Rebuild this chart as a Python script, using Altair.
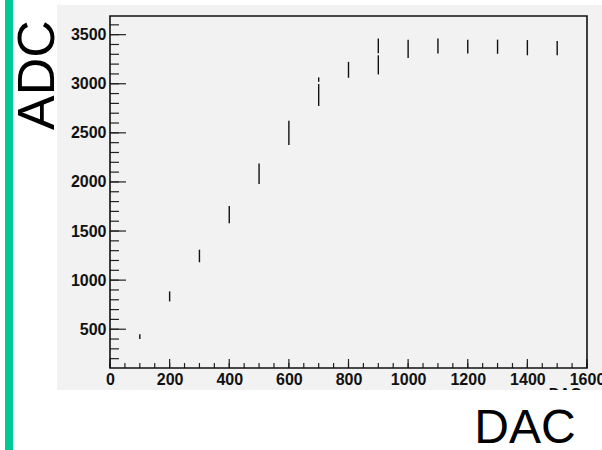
import altair as alt
import pandas as pd

dac = [100, 200, 300, 400, 500, 600, 700, 700, 800, 900, 900, 1000, 1100, 1200, 1300, 1400, 1500]
adc_lo = [400, 783, 1182, 1580, 1978, 2376, 2774, 3020, 3061, 3095, 3310, 3263, 3308, 3308, 3305, 3290, 3290]
adc_hi = [450, 885, 1310, 1755, 2187, 2623, 2997, 3065, 3223, 3290, 3460, 3449, 3460, 3449, 3449, 3445, 3435]

x_major = [0, 200, 400, 600, 800, 1000, 1200, 1400, 1600]
x_minor = list(range(0, 1601, 50))
y_major = [500, 1000, 1500, 2000, 2500, 3000, 3500]
y_minor = list(range(200, 3601, 100))

X_DOMAIN = [0, 1600]
Y_DOMAIN = [105, 3690]
W, H = 477, 352

df = pd.DataFrame({"dac": dac, "lo": adc_lo, "hi": adc_hi})
one = pd.DataFrame({"a": [0]})

FONT = "Liberation Sans"
xs = alt.Scale(domain=X_DOMAIN, nice=False, zero=False)
ys = alt.Scale(domain=Y_DOMAIN, nice=False, zero=False)
x_axis = alt.Axis(values=x_major, format="d", ticks=False, domain=False, grid=False, title=None,
                  labelFont=FONT, labelFontSize=16, labelFontWeight="bold",
                  labelColor="#111", labelPadding=3, labelFlush=False,
                  labelOverlap=False, zindex=1)
y_axis = alt.Axis(values=y_major, format="d", ticks=False, domain=False, grid=False, title=None,
                  labelFont=FONT, labelFontSize=16, labelFontWeight="bold",
                  labelColor="#111", labelPadding=4, labelFlush=False,
                  labelOverlap=False, zindex=1)

panel = alt.Chart(one).mark_rect(color="#f2f2f2").encode(
    x=alt.value(-53), x2=alt.value(492), y=alt.value(-11), y2=alt.value(374))
bar = alt.Chart(one).mark_rect(color="#00c896").encode(
    x=alt.value(-105), x2=alt.value(-97), y=alt.value(-16), y2=alt.value(434))
frame = alt.Chart(one).mark_rect(fillOpacity=0, stroke="#111", strokeWidth=1.6).encode(
    x=alt.value(0), x2=alt.value(W), y=alt.value(0), y2=alt.value(H))

small_title = alt.Chart(one).mark_text(text="DAC", font=FONT, fontSize=15, fontWeight="bold",
                                       align="center", baseline="top", color="#111").encode(
    x=alt.value(455), y=alt.value(369.5))
cover = alt.Chart(one).mark_rect(color="white").encode(
    x=alt.value(330), x2=alt.value(492), y=alt.value(374), y2=alt.value(434))

adc_text = alt.Chart(one).mark_text(text="ADC", font=FONT, fontSize=52, angle=270,
                                    align="center", baseline="middle", color="black").encode(
    x=alt.value(-72), y=alt.value(59))
dac_text = alt.Chart(one).mark_text(text="DAC", font=FONT, fontSize=48,
                                    align="center", baseline="alphabetic", color="black").encode(
    x=alt.value(415), y=alt.value(426.5))

points = alt.Chart(df).mark_rule(color="#111", strokeWidth=1.4).encode(
    x=alt.X("dac:Q", scale=xs, axis=x_axis),
    y=alt.Y("lo:Q", scale=ys, axis=y_axis),
    y2="hi:Q",
)
yminor = alt.Chart(pd.DataFrame({"v": y_minor})).mark_rule(color="#222", strokeWidth=1.2).encode(
    y=alt.Y("v:Q", scale=ys, axis=y_axis), x=alt.value(0), x2=alt.value(9))
ymajor = alt.Chart(pd.DataFrame({"v": y_major})).mark_rule(color="#222", strokeWidth=1.2).encode(
    y=alt.Y("v:Q", scale=ys, axis=y_axis), x=alt.value(0), x2=alt.value(16))
xminor = alt.Chart(pd.DataFrame({"v": x_minor})).mark_rule(color="#222", strokeWidth=1.2).encode(
    x=alt.X("v:Q", scale=xs, axis=x_axis), y=alt.value(H), y2=alt.value(H - 5))
xmajor = alt.Chart(pd.DataFrame({"v": x_major})).mark_rule(color="#222", strokeWidth=1.2).encode(
    x=alt.X("v:Q", scale=xs, axis=x_axis), y=alt.value(H), y2=alt.value(H - 9))

chart = alt.layer(
    panel, bar, small_title, cover, adc_text, dac_text,
    points, yminor, ymajor, xminor, xmajor, frame
).properties(
    width=W, height=H,
    autosize=alt.AutoSizeParams(type="none"),
    padding={"left": 110, "top": 16, "right": 15, "bottom": 82},
    background="white",
).configure_view(stroke=None)

chart.save("out.html", embed_options={"renderer": "svg", "actions": False})
